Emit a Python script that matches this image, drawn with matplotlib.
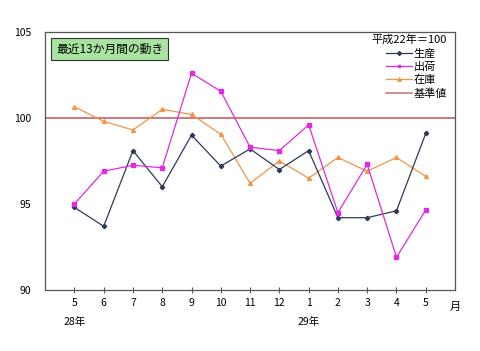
import matplotlib
matplotlib.use('Agg')
from matplotlib import pyplot as plt
from matplotlib.lines import Line2D

plt.rcParams['font.family'] = ['Noto Sans CJK JP', 'DejaVu Sans']

# 月ラベル
months = ['5', '6', '7', '8', '9', '10', '11', '12', '1', '2', '3', '4', '5']
years = ['28年', '29年']
year_pos = [0, 8]

production = [94.8, 93.7, 98.1, 96.0, 99.0, 97.2, 98.2, 97.0, 98.1, 94.2, 94.2, 94.6, 99.1]
shipment = [95.0, 96.9, 97.25, 97.1, 102.6, 101.55, 98.3, 98.1, 99.6, 94.5, 97.3, 91.9, 94.65]
inventory = [100.65, 99.8, 99.3, 100.5, 100.2, 99.05, 96.2, 97.5, 96.5, 97.7, 96.9, 97.7, 96.6]
base = 100

c_prod = '#2b3a5c'
c_ship = '#e02be0'
c_inv = '#f0954a'
c_base = '#c87070'

fig = plt.figure(figsize=(4.8, 3.51), dpi=100)
ax = fig.add_axes([0.094, 0.174, 0.854, 0.735])

x = list(range(len(months)))
ax.axhline(base, color=c_base, lw=1.3, zorder=1)
ax.plot(x, production, color=c_prod, lw=0.9, marker='D', ms=2.2, zorder=3)
ax.plot(x, shipment, color=c_ship, lw=0.9, marker='s', ms=2.4, zorder=4)
ax.plot(x, inventory, color=c_inv, lw=0.9, marker='^', ms=2.8, zorder=2)

ax.set_xlim(-1, 13)
ax.set_ylim(90, 105)
ax.set_yticks([90, 95, 100, 105])
ax.set_xticks(x)
ax.set_xticklabels(months)
ax.tick_params(axis='x', direction='inout', length=4, width=0.8, color='#555555',
               labelsize=7.5, pad=4)
ax.tick_params(axis='y', length=0, labelsize=7.5, pad=10)
for s in ax.spines.values():
    s.set_color('#555555')
    s.set_linewidth(0.9)

for p, yl in zip(year_pos, years):
    ax.text(p, -0.125, yl, transform=ax.get_xaxis_transform(), ha='center', va='center',
            fontsize=7.5)
ax.text(13, -0.065, '月', transform=ax.get_xaxis_transform(), ha='center', va='center',
        fontsize=8)

ax.text(0.027, 0.958, '最近13か月間の動き', transform=ax.transAxes, ha='left', va='top',
        fontsize=8.5,
        bbox=dict(boxstyle='square,pad=0.4', fc='#a8e4a0', ec='#333333', lw=0.8))

handles = [
    Line2D([], [], color=c_prod, lw=0.9, marker='D', ms=2),
    Line2D([], [], color=c_ship, lw=0.9, marker='s', ms=2),
    Line2D([], [], color=c_inv, lw=0.9, marker='^', ms=2.5),
    Line2D([], [], color=c_base, lw=1.1),
]
leg = ax.legend(handles, ['生産', '出荷', '在庫', '基準値'], title='平成22年＝100',
                loc='upper right', bbox_to_anchor=(1.0, 1.02), frameon=False, fontsize=8,
                title_fontsize=8, handlelength=2.4, handletextpad=0.15, labelspacing=0.28,
                borderpad=0.2)
leg._legend_box.align = 'right'

fig.savefig('out.png', dpi=100)
